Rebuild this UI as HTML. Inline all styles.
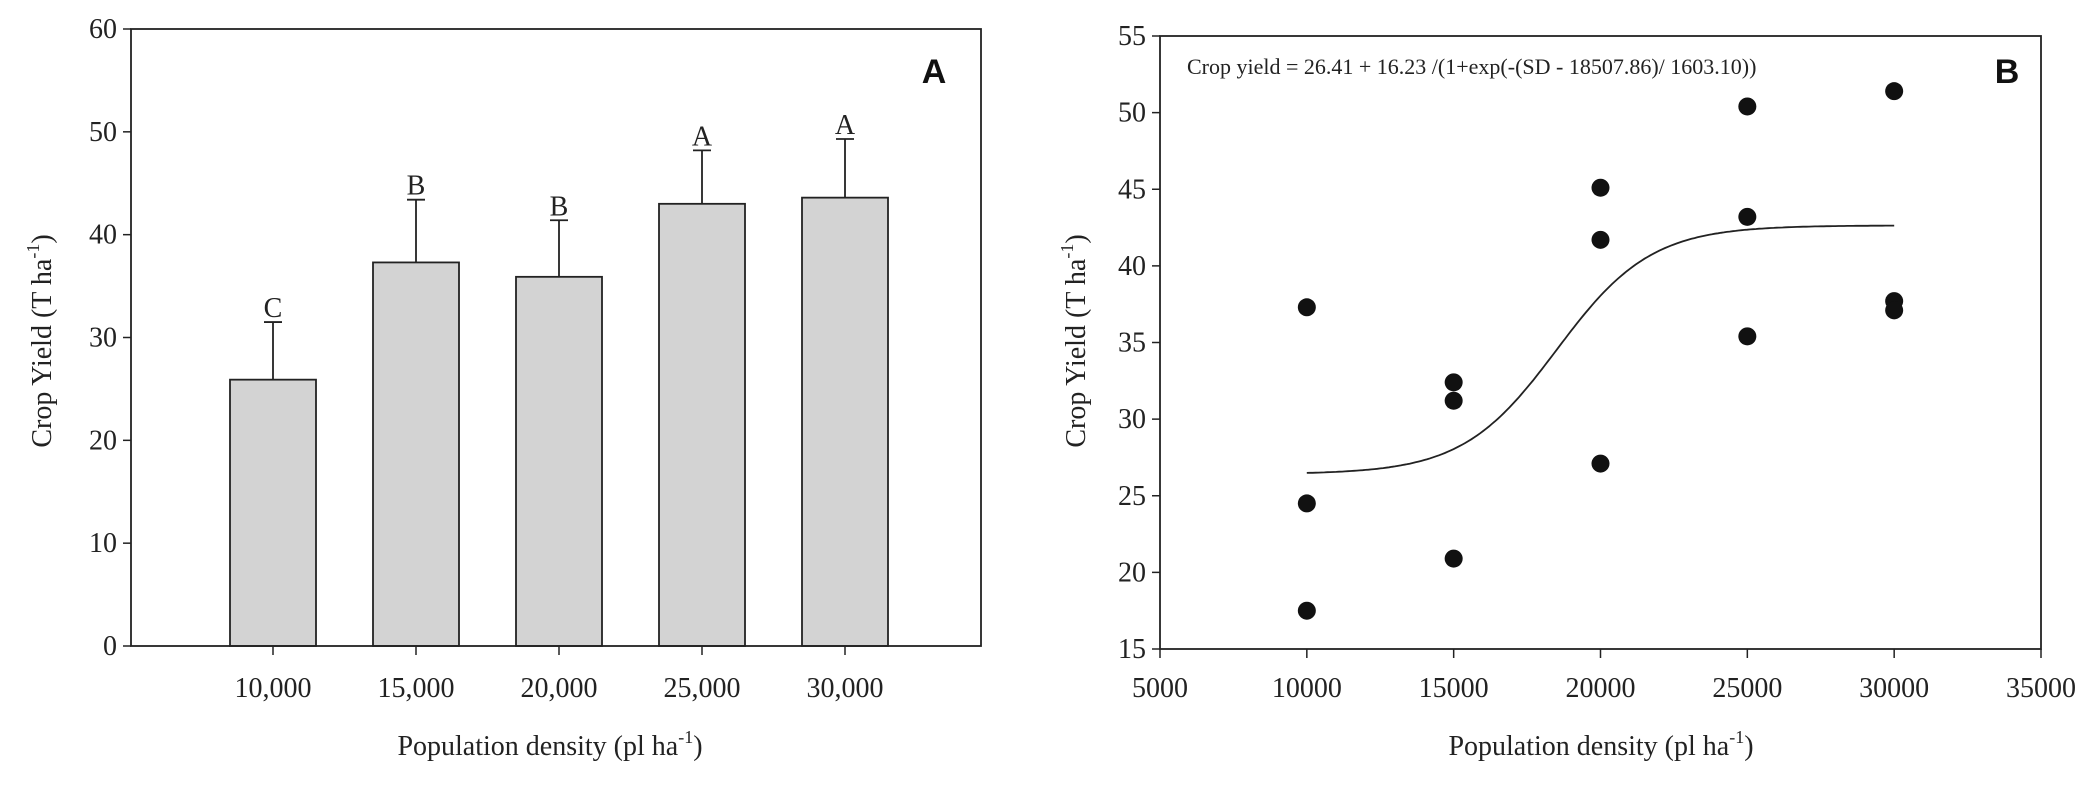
<!DOCTYPE html>
<html><head><meta charset="utf-8"><style>
html,body{margin:0;padding:0;background:#fff;}
svg{display:block;font-family:"Liberation Serif",serif;}
</style></head><body>
<svg id="fig" width="2100" height="798" viewBox="0 0 2100 798" xmlns="http://www.w3.org/2000/svg">
<g id="pa"></g>
<g id="pb"></g>
</svg>
<script>
// Panel A data
const catLabels = ["10,000","15,000","20,000","25,000","30,000"];
const barMeans = [25.9, 37.3, 35.9, 43.0, 43.6];
const barErrTops = [31.5, 43.4, 41.4, 48.2, 49.3];
const sigLetters = ["C","B","B","A","A"];
const yTicksA = [0,10,20,30,40,50,60];
// Panel B data
const ptX = [10000,10000,10000,15000,15000,15000,20000,20000,20000,25000,25000,25000,30000,30000,30000];
const ptY = [37.3,24.5,17.5,32.4,31.2,20.9,45.1,41.7,27.1,50.4,43.2,35.4,51.4,37.7,37.1];
const xTicksB = [5000,10000,15000,20000,25000,30000,35000];
const yTicksB = [15,20,25,30,35,40,45,50,55];
const fitParams = [26.41, 16.23, 18507.86, 1603.10];

const NS="http://www.w3.org/2000/svg";
function mk(parent,tag,attrs,text){const e=document.createElementNS(NS,tag);for(const k in attrs)e.setAttribute(k,attrs[k]);if(text!==undefined)e.textContent=text;parent.appendChild(e);return e;}

// ---- Panel A ----
const pa=document.getElementById('pa');
const A={l:131,r:981,t:29,b:646};
const yA=v=>A.b-(v-0)/60*(A.b-A.t);
const xA=i=>273+i*143;
yTicksA.forEach(v=>{
  const t=mk(pa,'line',{x1:A.l-8,x2:A.l,y1:yA(v),y2:yA(v),stroke:'#222','stroke-width':1.5});
  
  const l=mk(pa,'text',{x:A.l-14,y:yA(v)+9,'font-size':28,'text-anchor':'end',fill:'#222'},String(v));
  
});
barMeans.forEach((m,i)=>{
  const cx=xA(i);
  const b=mk(pa,'rect',{x:cx-43,y:yA(m),width:86,height:yA(0)-yA(m),fill:'#d3d3d3',stroke:'#222','stroke-width':1.8});
  
  const e=mk(pa,'line',{x1:cx,x2:cx,y1:yA(m),y2:yA(barErrTops[i]),stroke:'#222','stroke-width':1.8});
  
  const c=mk(pa,'line',{x1:cx-9,x2:cx+9,y1:yA(barErrTops[i]),y2:yA(barErrTops[i]),stroke:'#222','stroke-width':1.8});
  
  const s=mk(pa,'text',{x:cx,y:yA(barErrTops[i])-5,'font-size':28,'text-anchor':'middle',fill:'#222'},sigLetters[i]);
  
  const t=mk(pa,'line',{x1:cx,x2:cx,y1:A.b,y2:A.b+9,stroke:'#222','stroke-width':1.5});
  
  const l=mk(pa,'text',{x:cx,y:697,'font-size':28,'text-anchor':'middle',fill:'#222'},catLabels[i]);
  
});
const fa=mk(pa,'rect',{x:A.l,y:A.t,width:A.r-A.l,height:A.b-A.t,fill:'none',stroke:'#222','stroke-width':1.8});

const ta=mk(pa,'text',{x:934,y:83,'font-size':34,'font-weight':'bold','text-anchor':'middle','font-family':'Liberation Sans, sans-serif',fill:'#111'},'A');

const xta=mk(pa,'text',{x:550,y:755,'font-size':28,'text-anchor':'middle',fill:'#222'});

xta.innerHTML='Population density (pl ha<tspan dy="-12" font-size="18">-1</tspan><tspan dy="12">)</tspan>';
const yta=mk(pa,'text',{x:0,y:0,'font-size':28,'text-anchor':'middle',fill:'#222',transform:'translate(51,341) rotate(-90)'});

yta.innerHTML='Crop Yield (T ha<tspan dy="-12" font-size="18">-1</tspan><tspan dy="12">)</tspan>';

// ---- Panel B ----
const pb=document.getElementById('pb');
const B={l:1160,r:2041,t:36,b:649};
const xB=v=>B.l+(v-5000)/30000*(B.r-B.l);
const yB=v=>B.b-(v-15)/40*(B.b-B.t);
xTicksB.forEach(v=>{
  const t=mk(pb,'line',{x1:xB(v),x2:xB(v),y1:B.b,y2:B.b+9,stroke:'#222','stroke-width':1.5});
  
  const l=mk(pb,'text',{x:xB(v),y:697,'font-size':28,'text-anchor':'middle',fill:'#222'},String(v));
  
});
yTicksB.forEach(v=>{
  const t=mk(pb,'line',{x1:B.l-8,x2:B.l,y1:yB(v),y2:yB(v),stroke:'#222','stroke-width':1.5});
  
  const l=mk(pb,'text',{x:B.l-14,y:yB(v)+9,'font-size':28,'text-anchor':'end',fill:'#222'},String(v));
  
});
let d='';
for(let x=10000;x<=30000;x+=100){
  const y=fitParams[0]+fitParams[1]/(1+Math.exp(-(x-fitParams[2])/fitParams[3]));
  d+=(x===10000?'M':'L')+xB(x).toFixed(1)+','+yB(y).toFixed(1);
}
const cv=mk(pb,'path',{d:d,fill:'none',stroke:'#222','stroke-width':1.8});

ptX.forEach((x,i)=>{
  const c=mk(pb,'circle',{cx:xB(x),cy:yB(ptY[i]),r:9,fill:'#111'});
  
});
const fb=mk(pb,'rect',{x:B.l,y:B.t,width:B.r-B.l,height:B.b-B.t,fill:'none',stroke:'#222','stroke-width':1.8});

const eq=mk(pb,'text',{x:1187,y:74,'font-size':22,fill:'#222'},'Crop yield = 26.41 + 16.23 /(1+exp(-(SD - 18507.86)/ 1603.10))');

const tb=mk(pb,'text',{x:2007,y:83,'font-size':34,'font-weight':'bold','text-anchor':'middle','font-family':'Liberation Sans, sans-serif',fill:'#111'},'B');

const xtb=mk(pb,'text',{x:1601,y:755,'font-size':28,'text-anchor':'middle',fill:'#222'});

xtb.innerHTML='Population density (pl ha<tspan dy="-12" font-size="18">-1</tspan><tspan dy="12">)</tspan>';
const ytb=mk(pb,'text',{x:0,y:0,'font-size':28,'text-anchor':'middle',fill:'#222',transform:'translate(1085,341) rotate(-90)'});

ytb.innerHTML='Crop Yield (T ha<tspan dy="-12" font-size="18">-1</tspan><tspan dy="12">)</tspan>';
</script>
</body></html>
